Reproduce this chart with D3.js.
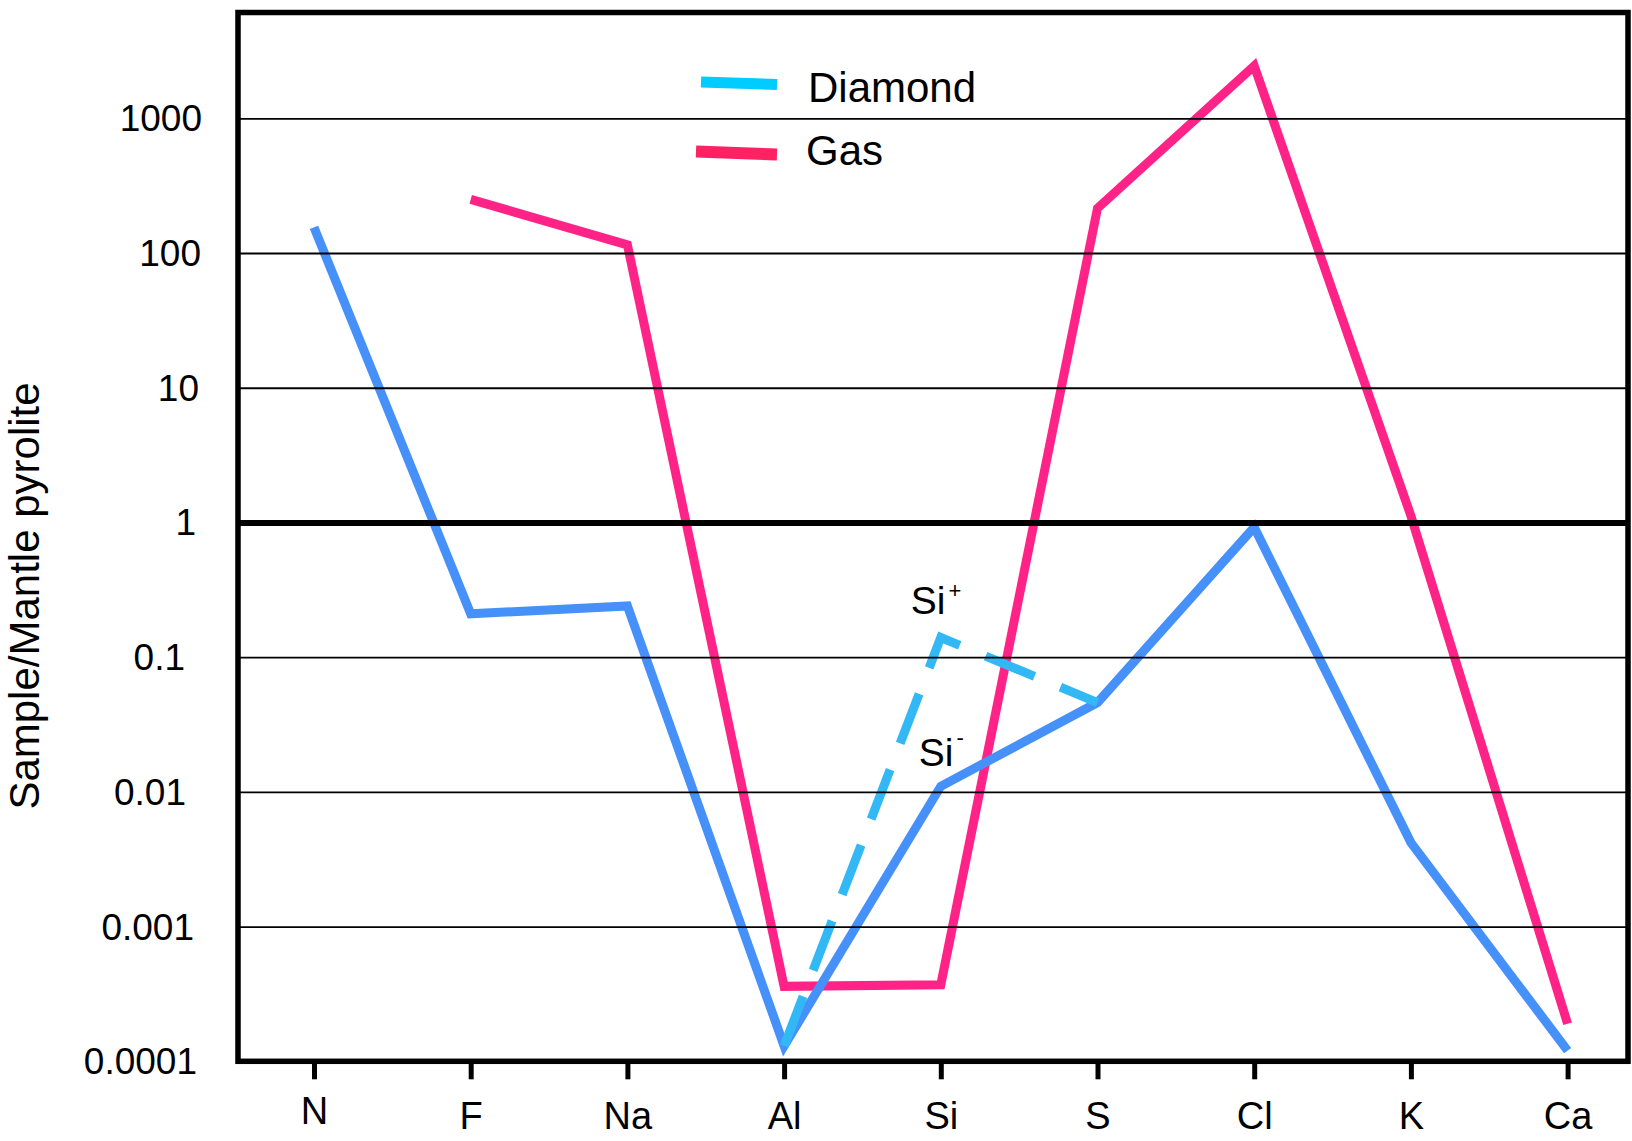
<!DOCTYPE html>
<html>
<head>
<meta charset="utf-8">
<script src="https://cdn.jsdelivr.net/npm/d3@7/dist/d3.min.js"></script>
<style>
  html, body { margin: 0; padding: 0; background: #ffffff; }
  svg { display: block; }
  text { font-family: "Liberation Sans", Arial, Helvetica, sans-serif; fill: #000; }
</style>
</head>
<body>
<svg id="chart" width="1632" height="1141"></svg>
<script>
// Elements along the x axis
const elements = ["N", "F", "Na", "Al", "Si", "S", "Cl", "K", "Ca"];

// Sample / mantle pyrolite ratios
const diamondValues = [155, 0.21, 0.24, 0.00013, 0.011, 0.046, 0.92, 0.0042, 0.00012];
const gasValues     = [null, 250, 115, 0.00036, 0.00037, 215, 2450, 1.12, 0.00019];

// Alternative Si value for diamond (Si+ branch, dashed)
const siPlusElements = ["Al", "Si", "S"];
const siPlusValues   = [0.00013, 0.14, 0.046];

// Tick labels
const yTickValues = [0.0001, 0.001, 0.01, 0.1, 1, 10, 100, 1000];
const yTickLabels = ["0.0001", "0.001", "0.01", "0.1", "1", "10", "100", "1000"];

const legendNames = ["Diamond", "Gas"];
const yTitle = "Sample/Mantle pyrolite";

const colors = {
  diamond: "#4690fa",
  gas: "#ff2388",
  siPlus: "#33b8f6",
  legendDiamond: "#00ccff",
  legendGas: "#ff2262"
};

const frame = { left: 238, right: 1628, top: 12.5, bottom: 1061.3 };

// Hand-set horizontal offsets of the y tick labels
const yLabelShift = { "0.0001": -2, "0.001": -5, "0.01": -13, "0.1": -14, "1": -3, "10": 0, "100": 2, "1000": 3 };

const svg = d3.select("#chart");

const x = d3.scalePoint().domain(elements).range([314, 1567.6]);
const y = d3.scaleLog().domain([1e-4, 6100]).range([frame.bottom, frame.top]);

const line = d3.line()
  .defined(d => d.v != null)
  .x(d => x(d.e))
  .y(d => y(d.v));

const diamondData = elements.map((e, i) => ({ e, v: diamondValues[i] }));
const gasData = elements.map((e, i) => ({ e, v: gasValues[i] }));
const siPlusData = siPlusElements.map((e, i) => ({ e, v: siPlusValues[i] }));

const plot = svg.append("g");

// Data lines
plot.append("path")
  .datum(gasData)
  .attr("d", line)
  .attr("fill", "none")
  .attr("stroke", colors.gas)
  .attr("stroke-width", 9);

plot.append("path")
  .datum(diamondData)
  .attr("d", line)
  .attr("fill", "none")
  .attr("stroke", colors.diamond)
  .attr("stroke-width", 9);

plot.append("path")
  .datum(siPlusData)
  .attr("d", line)
  .attr("fill", "none")
  .attr("stroke", colors.siPlus)
  .attr("stroke-width", 9)
  .attr("stroke-dasharray", "53,28");

// Horizontal grid lines (drawn over the data lines)
const yAxis = d3.axisLeft(y)
  .tickValues(yTickValues)
  .tickSize(-(frame.right - frame.left))
  .tickFormat("");

const gridG = svg.append("g")
  .attr("transform", `translate(${frame.left},0)`)
  .call(yAxis);
gridG.select(".domain").remove();
gridG.selectAll(".tick line")
  .attr("stroke", "#000")
  .attr("stroke-width", d => d === 1 ? 6 : 1.8);

// Y tick labels
svg.append("g")
  .selectAll("text")
  .data(yTickValues)
  .join("text")
  .attr("x", (d, i) => 199 + (yLabelShift[yTickLabels[i]] || 0))
  .attr("y", d => y(d))
  .attr("dy", "0.35em")
  .attr("text-anchor", "end")
  .style("font-size", "37px")
  .text((d, i) => yTickLabels[i]);

// Frame
svg.append("rect")
  .attr("x", frame.left)
  .attr("y", frame.top)
  .attr("width", frame.right - frame.left)
  .attr("height", frame.bottom - frame.top)
  .attr("fill", "none")
  .attr("stroke", "#000")
  .attr("stroke-width", 5.5);

// X axis ticks and labels
const xAxis = d3.axisBottom(x)
  .tickSize(18)
  .tickPadding(32);

const xG = svg.append("g")
  .attr("transform", `translate(0,${frame.bottom})`)
  .call(xAxis);
xG.select(".domain").remove();
xG.selectAll(".tick line")
  .attr("stroke", "#000")
  .attr("stroke-width", 5);
xG.selectAll(".tick text")
  .attr("fill", "#000")
  .attr("font-family", null)
  .attr("dy", null)
  .attr("y", d => d === "N" ? 63 : 68)
  .style("font-size", "38px");

// Y axis title
svg.append("text")
  .attr("transform", "translate(39,596) rotate(-90)")
  .attr("text-anchor", "middle")
  .style("font-size", "42px")
  .text(yTitle);

// Legend
const legend = svg.append("g");
const legendSwatches = [
  { name: legendNames[0], color: colors.legendDiamond, x1: 701, y1: 82, x2: 777, y2: 84.5, tx: 808, ty: 102, w: 11 },
  { name: legendNames[1], color: colors.legendGas, x1: 696, y1: 151.5, x2: 777, y2: 154.5, tx: 806, ty: 165, w: 12 }
];
legendSwatches.forEach(s => {
  legend.append("line")
    .attr("x1", s.x1).attr("y1", s.y1)
    .attr("x2", s.x2).attr("y2", s.y2)
    .attr("stroke", s.color)
    .attr("stroke-width", s.w);
  legend.append("text")
    .attr("x", s.tx)
    .attr("y", s.ty)
    .style("font-size", "42px")
    .text(s.name);
});

// Si+ / Si- annotations
function siLabel(px, py, sign, supShift) {
  const t = svg.append("text")
    .attr("x", px)
    .attr("y", py)
    .style("font-size", "39px");
  t.append("tspan").text("Si");
  t.append("tspan")
    .attr("dx", 3)
    .attr("dy", supShift)
    .style("font-size", "22px")
    .text(sign);
}
siLabel(x("Si") - 30, y(siPlusValues[1]) - 23, "+", -16);
siLabel(x("Si") - 22, y(diamondValues[4]) - 20, "-", -21);
</script>
</body>
</html>
